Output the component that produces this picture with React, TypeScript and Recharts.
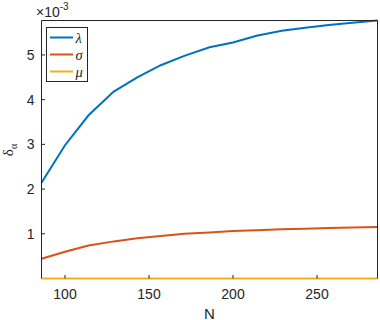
import { LineChart, Line, XAxis, YAxis } from "recharts";

// N values (x) and the three series, in units of 1e-3
const nValues = [86, 100, 114, 129, 143, 157, 171, 186, 200, 214, 229, 243, 257, 271, 286];
const lambdaVals = [2.14, 2.98, 3.65, 4.18, 4.5, 4.77, 4.98, 5.17, 5.28, 5.43, 5.54, 5.61, 5.67, 5.72, 5.77];
const sigmaVals = [0.44, 0.6, 0.74, 0.83, 0.9, 0.95, 1.0, 1.03, 1.06, 1.08, 1.1, 1.11, 1.13, 1.14, 1.15];
const muVals = [0, 0, 0, 0, 0, 0, 0, 0, 0, 0, 0, 0, 0, 0, 0];

const xTicks = [100, 150, 200, 250];
const yTicks = [1, 2, 3, 4, 5];

const series = [
  { key: "lambda", label: "λ", color: "#0072BD" },
  { key: "sigma", label: "σ", color: "#D95319" },
  { key: "mu", label: "μ", color: "#EDB120" },
];

const data = nValues.map((n, i) => ({
  n,
  lambda: lambdaVals[i],
  sigma: sigmaVals[i],
  mu: muVals[i],
}));

const AXIS = "#262626";
const FONT = "'Liberation Sans', Arial, Helvetica, sans-serif";
const SERIF = "'Liberation Serif', 'DejaVu Serif', serif";
const xDomain = [Math.min(...nValues), Math.max(...nValues)];
const yDomain = [0, Math.max(...lambdaVals)];

const tickStyle = { fill: AXIS, fontSize: 14, fontFamily: FONT };

export default function App() {
  return (
    <div style={{ position: "fixed", left: 0, top: 0, width: 380, height: 320, background: "#fff" }}>
      <LineChart width={380} height={320} data={data} margin={{ top: 0, right: 0, bottom: 0, left: 0 }}>
        {/* bottom axis line is hidden under the mu series anyway */}
        <XAxis
          dataKey="n"
          type="number"
          domain={xDomain}
          ticks={xTicks}
          height={41.5}
          stroke={AXIS}
          axisLine={false}
          tick={tickStyle}
          tickSize={-3.5}
          tickMargin={14.5}
        />
        <XAxis
          xAxisId="top"
          orientation="top"
          type="number"
          domain={xDomain}
          ticks={xTicks}
          height={20.5}
          stroke={AXIS}
          tick={false}
          tickSize={-3.5}
        />
        <YAxis
          type="number"
          domain={yDomain}
          ticks={yTicks}
          width={41.5}
          stroke={AXIS}
          tick={tickStyle}
          tickSize={-3.5}
          tickMargin={10.5}
        />
        <YAxis
          yAxisId="right"
          orientation="right"
          type="number"
          domain={yDomain}
          ticks={yTicks}
          width={2.5}
          stroke={AXIS}
          tick={false}
          tickSize={-3.5}
        />
        {series.map((s) => (
          <Line
            key={s.key}
            dataKey={s.key}
            type="linear"
            stroke={s.color}
            strokeWidth={2}
            dot={false}
            isAnimationActive={false}
          />
        ))}
      </LineChart>
      <svg
        width={380}
        height={320}
        style={{ position: "absolute", left: 0, top: 0, pointerEvents: "none" }}
      >
        {/* exponent */}
        <text x={36} y={17} fill={AXIS} fontSize={14} fontFamily={FONT}>
          ×10
          <tspan dy={-7.2} fontSize={10}>-3</tspan>
        </text>
        {/* y label */}
        <text
          transform="translate(13,150) rotate(-90)"
          textAnchor="middle"
          fill={AXIS}
          fontSize={15}
          fontFamily={SERIF}
        >
          δ
          <tspan dy={4} fontSize={10}>α</tspan>
        </text>
        {/* x label */}
        <text x={209.5} y={318.5} textAnchor="middle" fill={AXIS} fontSize={15} fontFamily={FONT}>
          N
        </text>
        {/* legend */}
        <rect x={46.5} y={27.5} width={41} height={54} fill="#fff" stroke={AXIS} strokeWidth={1} />
        {series.map((s, i) => (
          <g key={s.key}>
            <line x1={50} x2={73} y1={37.5 + i * 17} y2={37.5 + i * 17} stroke={s.color} strokeWidth={2} />
            <text
              x={75.5}
              y={42.5 + i * 17}
              fill={AXIS}
              fontSize={14.5}
              fontStyle="italic"
              fontFamily={SERIF}
            >
              {s.label}
            </text>
          </g>
        ))}
      </svg>
    </div>
  );
}
